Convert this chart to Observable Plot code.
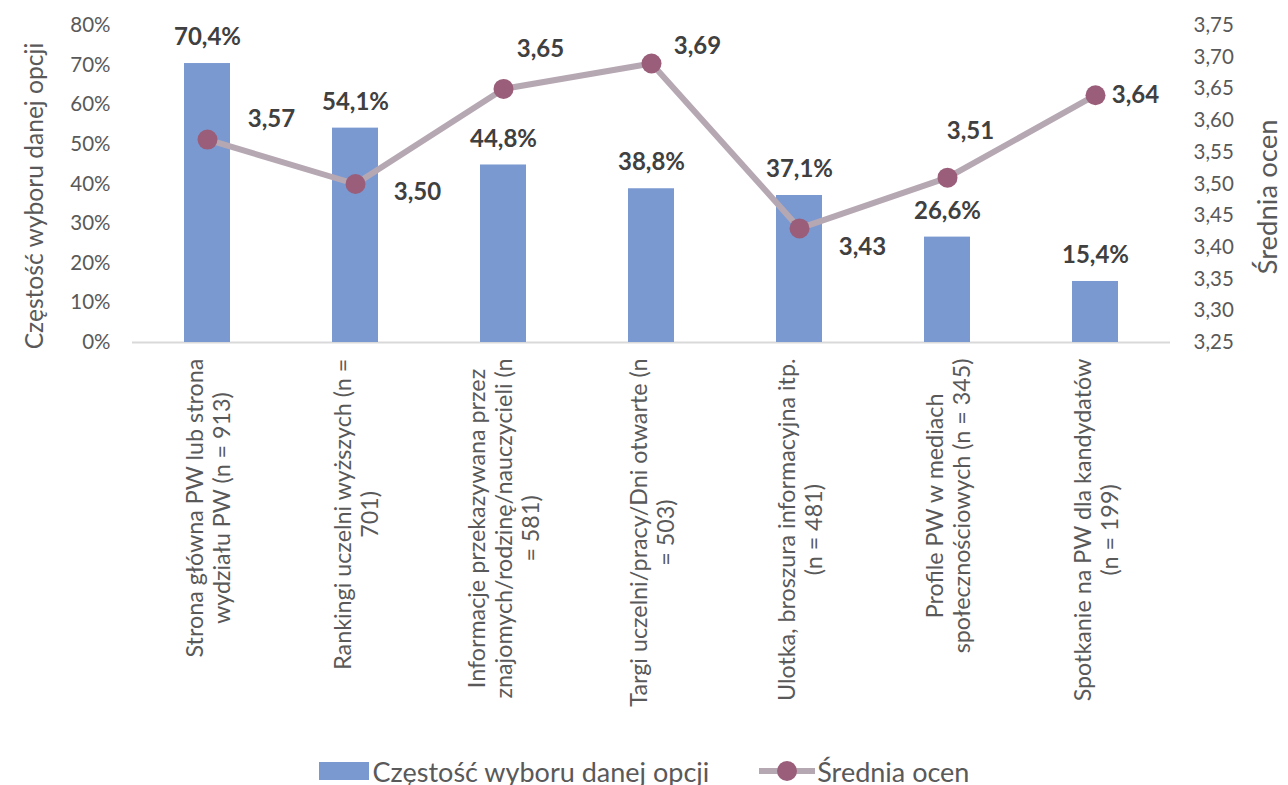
<!DOCTYPE html>
<html><head><meta charset="utf-8">
<script src="https://cdn.jsdelivr.net/npm/d3@7"></script>
<script src="https://cdn.jsdelivr.net/npm/@observablehq/plot@0.6"></script>
<style>
body{margin:0;background:#fff;font-family:Lato, sans-serif;}
#chart{position:absolute;left:0;top:0;}
#legend{position:absolute;left:0;top:757px;width:1288px;height:28px;display:flex;justify-content:center;align-items:center;font-size:27px;color:#595959;font-family:Lato, sans-serif;}
#legend .item{display:flex;align-items:center;}
</style></head><body><div id="chart"></div><div id="legend"></div>
<script>
const categories = [
  "Strona główna PW lub strona\nwydziału PW (n = 913)",
  "Rankingi uczelni wyższych (n =\n701)",
  "Informacje przekazywana przez\nznajomych/rodzinę/nauczycieli (n\n= 581)",
  "Targi uczelni/pracy/Dni otwarte (n\n= 503)",
  "Ulotka, broszura informacyjna itp.\n(n = 481)",
  "Profile PW w mediach\nspołecznościowych (n = 345)",
  "Spotkanie na PW dla kandydatów\n(n = 199)"
];
const shares = [70.4, 54.1, 44.8, 38.8, 37.1, 26.6, 15.4];
const ratings = [3.57, 3.50, 3.65, 3.69, 3.43, 3.51, 3.64];
const shareTicks = [0, 10, 20, 30, 40, 50, 60, 70, 80];
const ratingTicks = [3.25, 3.30, 3.35, 3.40, 3.45, 3.50, 3.55, 3.60, 3.65, 3.70, 3.75];
const seriesNames = ["Częstość wyboru danej opcji", "Średnia ocen"];
const leftTitle = "Częstość wyboru danej opcji";
const rightTitle = "Średnia ocen";

// label placement (pixel offsets from each point, styling only)
const ratingLabelOffsets = [[64,-20],[62,8],[37,-40],[46,-17],[63,19],[23,-46],[40,0]];

const shareDomain = [0, 80];
const ratingDomain = [3.25, 3.75];
const toShare = r => (r - ratingDomain[0]) / (ratingDomain[1] - ratingDomain[0]) * (shareDomain[1] - shareDomain[0]) + shareDomain[0];
const fromShare = s => (s - shareDomain[0]) / (shareDomain[1] - shareDomain[0]) * (ratingDomain[1] - ratingDomain[0]) + ratingDomain[0];
const comma = s => s.replace(".", ",");

const BAR = "#7A99D1", LINE = "#B6A8B3", DOT = "#9A5E7A", TXT = "#404040", AX = "#595959";
const FONT = "Lato";
const catSize = 23.3, catLine = 27;

const ctx = document.createElement("canvas").getContext("2d");
ctx.font = `${catSize}px ${FONT}`;
const catWidths = categories.map(c => Math.max(...c.split("\n").map(l => ctx.measureText(l).width)));

const rows = categories.map((c, i) => ({cat: c, share: shares[i], rating: ratings[i], ry: toShare(ratings[i])}));

const marks = [
  Plot.ruleY([0], {stroke: "#D9D9D9", strokeWidth: 2}),
  Plot.barY(rows, {x: "cat", y: "share", fill: BAR}),
  Plot.axisY(shareTicks, {anchor: "left", tickSize: 0, tickPadding: 22, tickFormat: d => d + "%", label: null, fontSize: 20.5}),
  Plot.axisY(ratingTicks.map(toShare), {anchor: "right", tickSize: 0, tickPadding: 23, tickFormat: d => comma(fromShare(d).toFixed(2)), label: null, fontSize: 20.5}),
  Plot.text(rows, {x: "cat", y: "share", text: d => comma(d.share.toFixed(1)) + "%", dy: -26, fontWeight: "bold", fontSize: 24, fill: TXT}),
  Plot.line(rows, {x: "cat", y: "ry", stroke: LINE, strokeWidth: 6}),
  Plot.dot(rows, {x: "cat", y: "ry", r: 10, fill: DOT, stroke: null}),
  ...rows.map((d, i) => Plot.text([d], {x: "cat", y: "ry", text: d => comma(d.rating.toFixed(2)), dx: ratingLabelOffsets[i][0], dy: ratingLabelOffsets[i][1], fontWeight: "bold", fontSize: 24, fill: TXT})),
  ...rows.map((d, i) => Plot.text([d], {x: "cat", y: 0, text: "cat", rotate: -90, textAnchor: "middle", dy: 16 + catWidths[i] / 2, fontSize: catSize, lineHeight: catLine / catSize, fill: AX})),
  Plot.text([leftTitle], {frameAnchor: "left", textAnchor: "middle", dx: -97, dy: 12, rotate: -90, fontSize: 24.6, fill: AX}),
  Plot.text([rightTitle], {frameAnchor: "right", textAnchor: "middle", dx: 98, dy: 13, rotate: -90, fontSize: 27.5, fill: AX})
];

const chart = Plot.plot({
  width: 1288,
  height: 752,
  marginLeft: 132,
  marginRight: 118,
  marginTop: 25,
  marginBottom: 410,
  style: {fontFamily: FONT, fontSize: "20px", color: AX, background: "white", overflow: "visible"},
  x: {domain: categories, paddingInner: 0.69, paddingOuter: 0.345, axis: null},
  y: {domain: shareDomain, axis: null},
  marks
});
document.getElementById("chart").appendChild(chart);

const legend = document.getElementById("legend");
legend.innerHTML = `
<div class="item"><svg width="50" height="20" style="margin-right:4px"><rect x="0" y="1" width="50" height="18" fill="${BAR}"/></svg><span>${seriesNames[0]}</span></div>
<div class="item" style="margin-left:50px"><svg width="56" height="24" style="margin-right:2px"><line x1="0" x2="56" y1="12" y2="12" stroke="${LINE}" stroke-width="6"/><circle cx="28" cy="12" r="10" fill="${DOT}"/></svg><span>${seriesNames[1]}</span></div>`;
</script>
</body></html>
